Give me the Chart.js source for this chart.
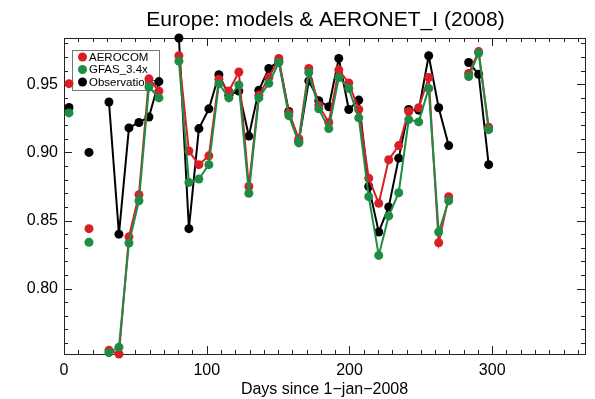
<!DOCTYPE html>
<html><head><meta charset="utf-8">
<script src="https://cdn.jsdelivr.net/npm/chart.js@4"></script>
<style>html,body{margin:0;padding:0;background:#fff;}#c{display:block}</style>
</head><body>
<canvas id="c" width="595" height="399"></canvas>
<script>
const titleText = 'Europe: models & AERONET_I (2008)';
const xAxisTitle = 'Days since 1\u2212jan\u22122008';
const seriesNames = ['AEROCOM', 'GFAS_3.4x', 'Observations'];
const days = [3.5,10.5,17.5,24.5,31.5,38.5,45.5,52.5,59.5,66.5,73.5,80.5,87.5,94.5,101.5,108.5,115.5,122.5,129.5,136.5,143.5,150.5,157.5,164.5,171.5,178.5,185.5,192.5,199.5,206.5,213.5,220.5,227.5,234.5,241.5,248.5,255.5,262.5,269.5,276.5,283.5,290.5,297.5];
const aerocom = [0.9505,null,0.844,null,0.7547,0.752,0.838,0.869,0.954,0.945,null,0.971,0.901,0.891,0.8975,0.9537,0.945,0.959,0.875,0.942,0.955,0.969,0.929,0.910,0.9616,0.9345,0.922,0.9606,0.951,0.9315,0.881,0.8626,0.8946,0.905,0.930,0.9328,0.955,0.8337,0.8675,null,0.958,0.974,0.9185];
const gfas = [0.929,null,0.834,null,0.753,0.757,0.8335,0.8645,0.948,0.940,null,0.967,0.878,0.8805,0.891,0.9505,0.940,0.9495,0.870,0.940,0.9507,0.966,0.927,0.907,0.9587,0.932,0.9175,0.955,0.947,0.9254,0.8675,0.8244,0.8534,0.8704,0.9241,0.9224,0.947,0.8416,0.8645,null,0.9557,0.973,0.9167];
const observations = [0.933,null,0.900,null,0.937,0.840,0.918,0.922,0.926,0.952,null,0.984,0.844,0.9175,0.932,0.957,0.942,0.945,0.912,0.9456,0.9616,0.967,0.930,0.908,0.9525,0.938,0.9335,0.969,0.9315,0.9384,0.875,0.8416,0.860,0.8958,0.9315,0.931,0.971,0.9328,0.905,null,0.966,0.9574,0.891];
const xTickValues = [0, 100, 200, 300];
const yTickValues = [0.80, 0.85, 0.90, 0.95];

const FONT = "'Liberation Sans', Arial, Helvetica, sans-serif";
const toPts = arr => days.map((d, i) => ({x: d, y: arr[i]}));
const allVals = aerocom.concat(gfas, observations).filter(v => v !== null);
const yMin = Math.min(...allVals), yMax = Math.max(...allVals);

const framePlugin = {
  id: 'frame',
  beforeDatasetsDraw(chart) {
    const ctx = chart.ctx, xs = chart.scales.x, ys = chart.scales.y;
    const {left, right, top, bottom} = chart.chartArea;
    ctx.save();
    ctx.strokeStyle = '#222'; ctx.lineWidth = 1;
    ctx.strokeRect(Math.round(left) + 0.5, Math.round(top) + 0.5, Math.round(right - left), Math.round(bottom - top));
    ctx.beginPath();
    for (let v = 0; v <= xs.max; v += 10) {
      const px = Math.round(xs.getPixelForValue(v)) + 0.5;
      const len = v % 100 === 0 ? 8 : 4;
      ctx.moveTo(px, bottom); ctx.lineTo(px, bottom - len);
      ctx.moveTo(px, top); ctx.lineTo(px, top + len);
    }
    for (let i = 70; i <= 100; i++) {
      const v = i / 100;
      if (v < ys.min || v > ys.max) continue;
      const py = Math.round(ys.getPixelForValue(v)) + 0.5;
      const len = i % 5 === 0 ? 8 : 4;
      ctx.moveTo(left, py); ctx.lineTo(left + len, py);
      ctx.moveTo(right, py); ctx.lineTo(right - len, py);
    }
    ctx.stroke();
    // legend
    const lx = left + 8, ly = top + 12;
    ctx.fillStyle = '#fff';
    ctx.fillRect(lx, ly, 87, 40);
    ctx.strokeStyle = '#777';
    ctx.strokeRect(lx + 0.5, ly + 0.5, 87, 40);
    ctx.font = '11.5px ' + FONT;
    ctx.textBaseline = 'middle';
    chart.data.datasets.forEach((ds, i) => {
      const cy = ly + 7 + i * 12.5;
      ctx.fillStyle = ds.backgroundColor;
      ctx.beginPath(); ctx.arc(lx + 10.5, cy, 4.5, 0, Math.PI * 2); ctx.fill();
      ctx.fillStyle = '#000';
      ctx.fillText(ds.label, lx + 17, cy + 0.5);
    });
    ctx.restore();
  },
  afterDraw(chart) {
    const ctx = chart.ctx;
    const {left, right} = chart.chartArea;
    ctx.save();
    ctx.font = '21px ' + FONT;
    ctx.fillStyle = '#000';
    ctx.textAlign = 'center';
    ctx.textBaseline = 'middle';
    ctx.fillText(titleText, (left + right) / 2 + 1, 20);
    ctx.restore();
  }
};

const colors = ['#d81f25', '#1f8c45', '#000000'];
const series = [aerocom, gfas, observations];
const orders = [1, 0, 2];

new Chart(document.getElementById('c'), {
  type: 'line',
  data: {
    datasets: series.map((s, i) => ({
      label: seriesNames[i],
      data: toPts(s),
      borderColor: colors[i],
      backgroundColor: colors[i],
      pointBackgroundColor: colors[i],
      pointBorderColor: colors[i],
      pointRadius: 4.5,
      pointBorderWidth: 0,
      borderWidth: 2,
      tension: 0,
      spanGaps: false,
      clip: false,
      order: orders[i]
    }))
  },
  options: {
    responsive: false,
    animation: false,
    devicePixelRatio: 1,
    layout: {padding: {top: 38, right: 10, left: 0, bottom: 0}},
    plugins: {legend: {display: false}, title: {display: false}, tooltip: {enabled: false}},
    scales: {
      x: {
        type: 'linear', min: 0, max: 365,
        afterFit: s => { s.height = 45; },
        afterBuildTicks: s => { s.ticks = xTickValues.map(v => ({value: v})); },
        ticks: {font: {family: FONT, size: 16}, color: '#000', padding: 7, maxRotation: 0,
          callback: v => String(v)},
        grid: {display: false, drawTicks: false},
        border: {display: false},
        title: {display: true, text: xAxisTitle, font: {family: FONT, size: 16}, color: '#000', padding: {top: 0, bottom: 0}}
      },
      y: {
        type: 'linear', min: yMin, max: yMax,
        afterFit: s => { s.width = 64; },
        afterBuildTicks: s => { s.ticks = yTickValues.map(v => ({value: v})); },
        ticks: {font: {family: FONT, size: 16}, color: '#000', padding: 6,
          callback: v => Number(v).toFixed(2)},
        grid: {display: false, drawTicks: false},
        border: {display: false}
      }
    }
  },
  plugins: [framePlugin]
});
</script>
</body></html>
